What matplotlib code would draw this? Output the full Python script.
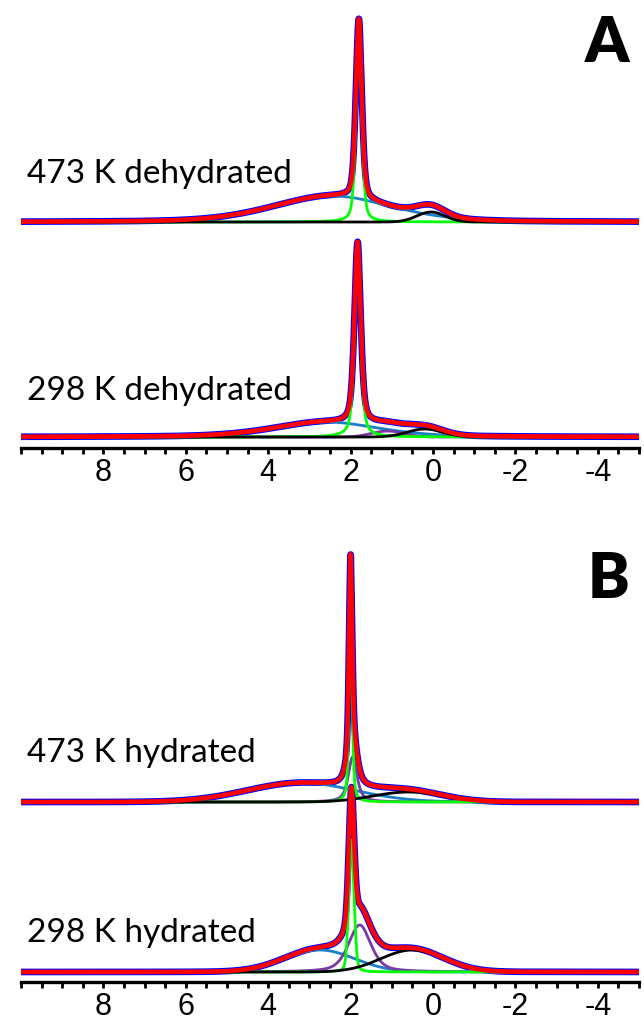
import numpy as np
import matplotlib
matplotlib.use("Agg")
import matplotlib.pyplot as plt
from matplotlib.ticker import MultipleLocator, FuncFormatter

plt.rcParams['axes.unicode_minus'] = False

# ---------------- data ----------------
# chemical-shift axis (ppm)
x_min, x_max = -5.0, 10.0
tick_labels = [8, 6, 4, 2, 0, -2, -4]

# component order: broad (blue), narrow (green), purple, black
comp_names = ["broad", "narrow", "purple", "black"]

# Panel A, 473 K dehydrated
a473_center = [2.45, 1.80, 1.20, 0.05]
a473_height = [26.0, 180.0, 0.0, 10.0]
a473_fwhm   = [3.40, 0.17, 0.60, 0.80]
a473_eta    = [0.30, 0.40, 0.00, 0.00]

# Panel A, 298 K dehydrated
a298_center = [2.60, 1.83, 1.10, 0.20]
a298_height = [15.0, 182.0, 6.0, 8.0]
a298_fwhm   = [3.00, 0.18, 0.90, 1.00]
a298_eta    = [0.40, 0.50, 0.00, 0.00]

# Panel B, 473 K hydrated
b473_center = [3.20, 2.00, 1.95, 0.60]
b473_height = [19.0, 193.0, 45.0, 10.0]
b473_fwhm   = [3.10, 0.09, 0.25, 2.00]
b473_eta    = [0.00, 0.50, 0.70, 0.00]

# Panel B, 298 K hydrated
b298_center = [2.75, 1.98, 1.78, 0.50]
b298_height = [22.0, 132.0, 47.0, 22.0]
b298_fwhm   = [2.00, 0.15, 0.64, 1.80]
b298_eta    = [0.00, 0.20, 0.50, 0.00]

labels = ["473 K dehydrated", "298 K dehydrated", "473 K hydrated", "298 K hydrated"]
panel_letters = ["A", "B"]

# ---------------- styling ----------------
comp_colors = {"broad": "#1a7fc6", "narrow": "#00ff00", "purple": "#7a3aa6", "black": "#000000"}
comp_z = {"broad": 2, "purple": 3, "narrow": 4, "black": 5}
W, H = 644, 1021

def pvoigt(x, c, h, fwhm, eta):
    g = np.exp(-4 * np.log(2) * ((x - c) / fwhm) ** 2)
    l = 1.0 / (1.0 + (2 * (x - c) / fwhm) ** 2)
    return h * ((1 - eta) * g + eta * l)

x = np.linspace(x_min, x_max, 6000)

fig = plt.figure(figsize=(W / 100, H / 100), dpi=100)

def make_axes(top_px, axis_px):
    ax = fig.add_axes([21 / W, 1 - axis_px / H, 618 / W, (axis_px - top_px) / H])
    ax.set_xlim(x_max, x_min)
    ax.set_ylim(0, axis_px - top_px)
    for s in ["top", "left", "right"]:
        ax.spines[s].set_visible(False)
    ax.spines["bottom"].set_linewidth(2.4)
    ax.yaxis.set_visible(False)
    ax.xaxis.set_major_locator(MultipleLocator(2))
    ax.xaxis.set_minor_locator(MultipleLocator(0.5))
    ax.xaxis.set_major_formatter(FuncFormatter(lambda v, p: f"{int(round(v))}" if int(round(v)) in tick_labels else ""))
    ax.tick_params(axis="x", which="both", direction="out", length=4.5, width=2.0, color="black")
    ax.tick_params(axis="x", which="major", labelsize=22, pad=3)
    ax.patch.set_visible(False)
    return ax

def draw_spectrum(ax, offset, centers, heights, fwhms, etas):
    total = np.zeros_like(x)
    comps = []
    for name, c, h, w, e in zip(comp_names, centers, heights, fwhms, etas):
        y = pvoigt(x, c, h, w, e)
        total += y
        if h > 0:
            comps.append((name, y))
    ax.plot(x, total + offset, color="#0000ff", lw=4.8, zorder=1, solid_capstyle="butt")
    for name, y in comps:
        ax.plot(x, y + offset, color=comp_colors[name], lw=2.0, zorder=comp_z[name])
    ax.plot(x, total + offset, color="#ff0000", lw=3.3, zorder=6)

axA = make_axes(0, 448)
draw_spectrum(axA, 448 - 222, a473_center, a473_height, a473_fwhm, a473_eta)
draw_spectrum(axA, 448 - 437, a298_center, a298_height, a298_fwhm, a298_eta)

axB = make_axes(500, 982)
draw_spectrum(axB, 982 - 802, b473_center, b473_height, b473_fwhm, b473_eta)
draw_spectrum(axB, 982 - 972, b298_center, b298_height, b298_fwhm, b298_eta)

for ax in (axA, axB):
    for t in ax.get_xticklabels():
        t.set_fontfamily("Liberation Sans")

label_font = "Lato"
for lab, base in zip(labels, [183, 400, 762, 942]):
    fig.text(27 / W, 1 - base / H, lab, fontsize=24, family=label_font, va="baseline", ha="left")

for letter, base in zip(panel_letters, [62, 598]):
    fig.text(629 / W, 1 - base / H, letter, fontsize=45, family=label_font, fontweight="heavy",
             va="baseline", ha="right")

fig.savefig("out.png", dpi=100)
